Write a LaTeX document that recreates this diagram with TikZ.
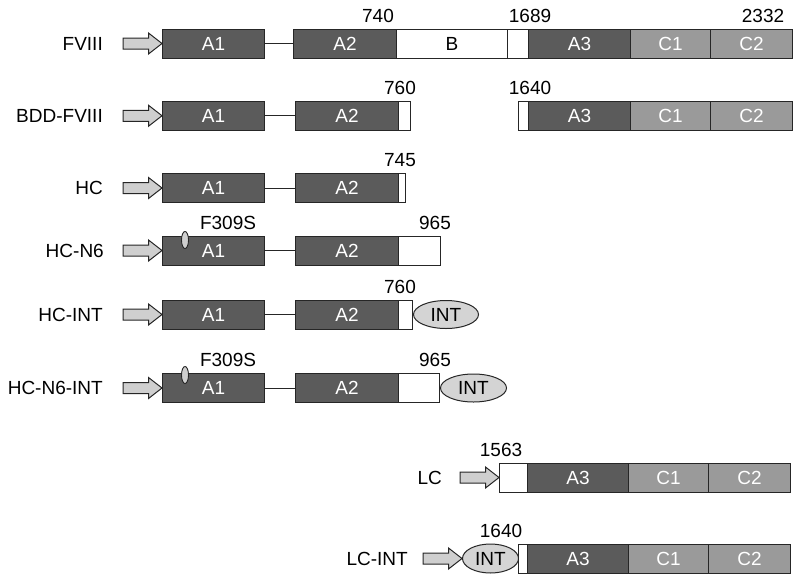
\documentclass[tikz,border=0pt]{standalone}
\usepackage{fontspec}
\setmainfont{Liberation Sans}
\usetikzlibrary{shapes.geometric}
\definecolor{darkseg}{HTML}{5B5B5B}
\definecolor{lightseg}{HTML}{9A9A9A}
\definecolor{arrowfill}{HTML}{CFCFCF}
\definecolor{intfill}{HTML}{D4D4D4}
\definecolor{edge}{HTML}{262626}
\tikzset{
  seg/.style={draw=edge, line width=1pt, minimum height=29pt, inner sep=0pt, anchor=west, font=\fontsize{19}{22}\selectfont},
  dseg/.style={seg, fill=darkseg, text=white},
  cseg/.style={seg, fill=lightseg, text=white},
  wseg/.style={seg, fill=white, text=black},
  garr/.style={draw=edge, line width=1pt, fill=arrowfill, line join=miter},
  link/.style={draw=edge, line width=1pt},
  rowlabel/.style={anchor=east, inner sep=0pt, font=\fontsize{19}{22}\selectfont},
  num/.style={anchor=base, inner sep=0pt, font=\fontsize{19}{22}\selectfont},
  intell/.style={ellipse, draw=edge, line width=1pt, fill=intfill, minimum width=65pt, minimum height=28pt, inner sep=0pt, font=\fontsize{19}{22}\selectfont},
  mutell/.style={ellipse, draw=edge, line width=0.9pt, fill=arrowfill, minimum width=7pt, minimum height=17pt, inner sep=0pt},
}
\newcommand\garrow[3]{\draw[garr] (#1,#3-5.5) -- (#2-13.5,#3-5.5) -- (#2-13.5,#3-10.5) -- (#2,#3) -- (#2-13.5,#3+10.5) -- (#2-13.5,#3+5.5) -- (#1,#3+5.5) -- cycle;}
\begin{document}
\begin{tikzpicture}[x=1pt,y=-1pt]
\useasboundingbox (0,0) rectangle (800,581);
% Row 1 FVIII
\node[rowlabel] (l1) at (103,43.5) {FVIII};
\garrow{123}{162}{43.5}
\node[dseg, minimum width=102pt] (r1a1) at (162,43.5) {A1};
\node[dseg, minimum width=103pt] (r1a2) at (293,43.5) {A2};
\node[wseg, minimum width=111pt] (r1b) at (396,43.5) {B};
\node[wseg, minimum width=21pt] (r1w) at (507,43.5) {};
\node[dseg, minimum width=102pt] (r1a3) at (528,43.5) {A3};
\node[cseg, minimum width=80pt] (r1c1) at (630,43.5) {C1};
\node[cseg, minimum width=82pt] (r1c2) at (710,43.5) {C2};
\draw[link] (r1a1.east) -- (r1a2.west);
\node[num] (n740) at (378,22) {740};
\node[num] (n1689) at (530,22) {1689};
\node[num] (n2332) at (763,22) {2332};
% Row 2 BDD-FVIII
\node[rowlabel] (l2) at (103,115.75) {BDD-FVIII};
\garrow{123}{162}{115.75}
\node[dseg, minimum width=102pt] (r2a1) at (162,115.75) {A1};
\node[dseg, minimum width=103pt] (r2a2) at (295,115.75) {A2};
\node[wseg, minimum width=12pt] (r2w) at (398,115.75) {};
\draw[link] (r2a1.east) -- (r2a2.west);
\node[num] (n760a) at (400,94.5) {760};
\node[wseg, minimum width=10pt] (r2w2) at (518,115.75) {};
\node[dseg, minimum width=102pt] (r2a3) at (528,115.75) {A3};
\node[cseg, minimum width=80pt] (r2c1) at (630,115.75) {C1};
\node[cseg, minimum width=82pt] (r2c2) at (710,115.75) {C2};
\node[num] (n1640a) at (530,94.5) {1640};
% Row 3 HC
\node[rowlabel] (l3) at (103,188) {HC};
\garrow{123}{162}{188}
\node[dseg, minimum width=102pt] (r3a1) at (162,188) {A1};
\node[dseg, minimum width=103pt] (r3a2) at (295,188) {A2};
\node[wseg, minimum width=7pt] (r3w) at (398,188) {};
\draw[link] (r3a1.east) -- (r3a2.west);
\node[num] (n745) at (400,166) {745};
% Row 4 HC-N6
\node[rowlabel] (l4) at (104,250.5) {HC-N6};
\garrow{123}{162}{250.5}
\node[dseg, minimum width=102pt] (r4a1) at (162,250.5) {A1};
\node[dseg, minimum width=103pt] (r4a2) at (295,250.5) {A2};
\node[wseg, minimum width=42pt] (r4w) at (398,250.5) {};
\draw[link] (r4a1.east) -- (r4a2.west);
\node[mutell] (m4) at (185,240) {};
\node[num] (f4) at (228,229) {F309S};
\node[num] (n965a) at (435,229) {965};
% Row 5 HC-INT
\node[rowlabel] (l5) at (103,314.5) {HC-INT};
\garrow{123}{162}{314.5}
\node[dseg, minimum width=102pt] (r5a1) at (162,314.5) {A1};
\node[dseg, minimum width=103pt] (r5a2) at (295,314.5) {A2};
\node[wseg, minimum width=14pt] (r5w) at (398,314.5) {};
\draw[link] (r5a1.east) -- (r5a2.west);
\node[intell, anchor=west] (i5) at (r5w.east) {INT};
\node[num] (n760b) at (400,293) {760};
% Row 6 HC-N6-INT
\node[rowlabel] (l6) at (103,388) {HC-N6-INT};
\garrow{123}{162}{388}
\node[dseg, minimum width=102pt] (r6a1) at (162,388) {A1};
\node[dseg, minimum width=103pt] (r6a2) at (295,388) {A2};
\node[wseg, minimum width=41pt] (r6w) at (398,388) {};
\draw[link] (r6a1.east) -- (r6a2.west);
\node[intell, anchor=west, minimum width=66pt] (i6) at (r6w.east) {INT};
\node[mutell] (m6) at (185,375) {};
\node[num] (f6) at (228,366) {F309S};
\node[num] (n965b) at (435,366) {965};
% Row 7 LC
\node[rowlabel] (l7) at (442,477.5) {LC};
\garrow{460}{499}{477.5}
\node[wseg, minimum width=28pt] (r7w) at (499,477.5) {};
\node[dseg, minimum width=101pt] (r7a3) at (527,477.5) {A3};
\node[cseg, minimum width=80pt] (r7c1) at (628,477.5) {C1};
\node[cseg, minimum width=82pt] (r7c2) at (708,477.5) {C2};
\node[num] (n1563) at (501,456) {1563};
% Row 8 LC-INT
\node[rowlabel] (l8) at (408,558.5) {LC-INT};
\garrow{423}{462}{558.5}
\node[intell, anchor=west, minimum width=56pt, minimum height=29pt] (i8) at (462,558.5) {INT};
\node[wseg, minimum width=9pt] (r8w) at (518,558.5) {};
\node[dseg, minimum width=101pt] (r8a3) at (527,558.5) {A3};
\node[cseg, minimum width=80pt] (r8c1) at (628,558.5) {C1};
\node[cseg, minimum width=82pt] (r8c2) at (708,558.5) {C2};
\node[num] (n1640b) at (501,537) {1640};
\end{tikzpicture}
\end{document}
